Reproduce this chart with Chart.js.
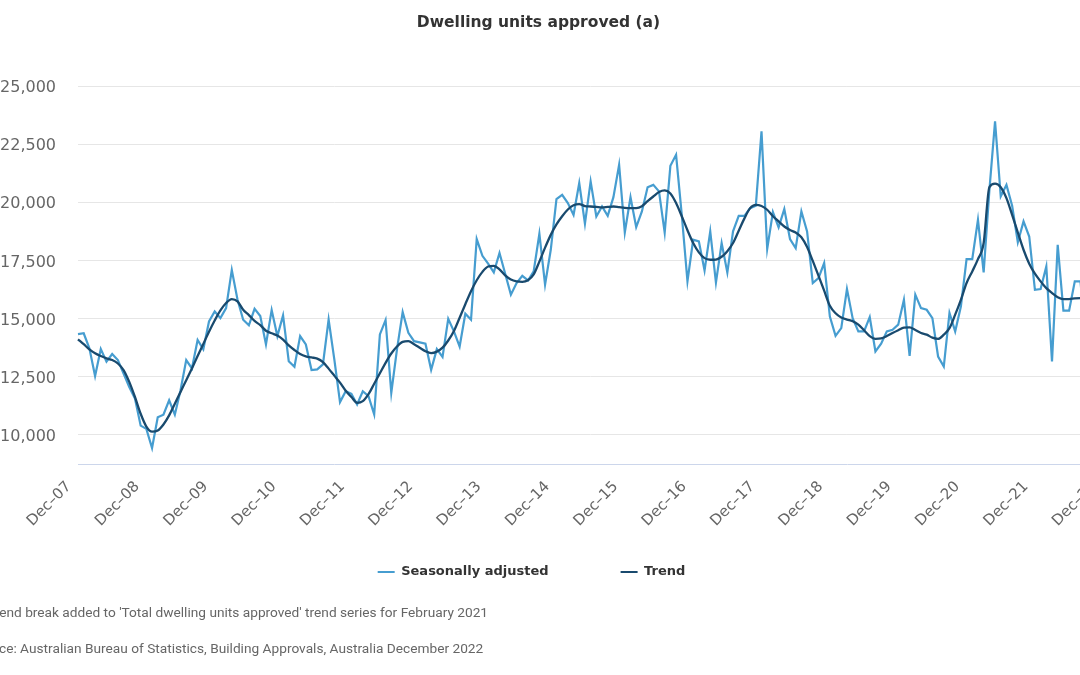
<!DOCTYPE html>
<html>
<head>
<meta charset="utf-8">
<script src="https://cdn.jsdelivr.net/npm/chart.js@4.4.1/dist/chart.umd.min.js"></script>
<style>
  body { margin: 0; width: 1080px; height: 675px; overflow: hidden; background: #fff; position: relative; }
  #wrap { position: absolute; left: -33px; top: 0; width: 1163px; height: 640px; }
  .note { position: absolute; font: 13.7px Roboto, sans-serif; line-height: 16px; color: #666; white-space: nowrap; }
</style>
</head>
<body>
<div id="wrap"><canvas id="myChart" width="1163" height="640"></canvas></div>
<div class="note" style="top:604px; left:-33px">(a) Trend break added to 'Total dwelling units approved' trend series for February 2021</div>
<div class="note" style="top:640px; left:-29px">Source: Australian Bureau of Statistics, Building Approvals, Australia December 2022</div>
<script>
// monthly, Dec-07 .. Dec-22
const monthNames = ["Jan", "Feb", "Mar", "Apr", "May", "Jun", "Jul", "Aug", "Sep", "Oct", "Nov", "Dec"];
const startYear = 2007;
const startMonth = 11; // Dec
const monthCount = 181;

const seasonallyAdjusted = [
  14330, 14370, 13720, 12530, 13690, 13150, 13480, 13220, 12640, 12060, 11560, 10400,
  10260, 9440, 10760, 10870, 11490, 10870, 11920, 13220, 12860, 14080, 13680, 14880,
  15310, 15020, 15450, 17090, 15820, 14950, 14710, 15420, 15110, 13890, 15370, 14250,
  15140, 13170, 12930, 14250, 13890, 12790, 12820, 13030, 14960, 13250, 11410, 11880,
  11770, 11310, 11880, 11670, 10880, 14320, 14940, 11810, 13680, 15280, 14390, 14030,
  13980, 13920, 12800, 13690, 13350, 14990, 14450, 13800, 15210, 14950, 18420, 17700,
  17360, 16990, 17820, 16930, 16030, 16530, 16840, 16640, 17030, 18650, 16460, 17960,
  20140, 20320, 19970, 19460, 20830, 19080, 20900, 19390, 19820, 19420, 20220, 21610,
  18700, 20220, 18930, 19610, 20650, 20750, 20470, 18700, 21570, 22040, 19460, 16600,
  18390, 18320, 17070, 18750, 16550, 18250, 16980, 18750, 19420, 19420, 19750, 19850,
  23050, 18000, 19580, 18920, 19710, 18420, 18030, 19610, 18750, 16530, 16740, 17390,
  15090, 14260, 14590, 16270, 15020, 14450, 14450, 15070, 13590, 13920, 14450, 14520,
  14740, 15810, 13400, 16030, 15450, 15380, 15020, 13370, 12940, 15240, 14450, 15520,
  17560, 17560, 19250, 16990, 20500, 23480, 20250, 20750, 19850, 18280, 19180, 18530,
  16240, 16270, 17240, 13160, 18170, 15340, 15340, 16600, 16600, 13900, 14200, 16300,
  14500
];

const trend = [
  14110, 13900, 13680, 13510, 13390, 13290, 13220, 13070, 12790, 12280, 11630, 10910,
  10360, 10140, 10190, 10450, 10840, 11340, 11850, 12350, 12860, 13390, 13910, 14440,
  14920, 15350, 15670, 15840, 15740, 15380, 15150, 14900, 14720, 14480, 14370, 14270,
  14100, 13850, 13650, 13480, 13380, 13330, 13280, 13130, 12850, 12550, 12250, 11900,
  11630, 11380, 11450, 11750, 12200, 12650, 13100, 13500, 13800, 14000, 14030, 13900,
  13750, 13600, 13520, 13580, 13750, 14060, 14470, 15040, 15620, 16180, 16650, 17010,
  17240, 17270, 17120, 16860, 16680, 16600, 16580, 16650, 16900, 17450, 18050, 18600,
  19050, 19400, 19690, 19870, 19920, 19840, 19820, 19800, 19780, 19800, 19820, 19790,
  19760, 19750, 19750, 19830, 20050, 20250, 20440, 20510, 20380, 19970, 19400, 18800,
  18250, 17850, 17600, 17530, 17540, 17660, 17900, 18250, 18780, 19310, 19750, 19890,
  19840, 19680, 19400, 19180, 18960, 18810, 18700, 18500, 18080, 17480, 16850, 16200,
  15550, 15230, 15050, 14960, 14890, 14740, 14500, 14250, 14130, 14150, 14250, 14380,
  14500, 14610, 14620, 14510, 14380, 14310, 14180, 14130, 14310, 14590, 15170, 15810,
  16530, 17030, 17560, 18250, 20650, 20800, 20650, 20180, 19460, 18700, 17960, 17360,
  16930, 16600, 16310, 16100, 15920, 15840, 15840, 15870, 15880, 15880, 15900, 15920,
  15930
];

const yMin = 8750;
const yMax = 25000;
const yTicks = [10000, 12500, 15000, 17500, 20000, 22500, 25000];

function getMonths() {
  const arr = [];
  for (let k = 0; k < monthCount; k++) {
    const m = (startMonth + k) % 12;
    const y = startYear + Math.floor((startMonth + k) / 12);
    arr.push(`${monthNames[m]}–${String(y % 100).padStart(2, "0")}`);
  }
  return arr;
}

Chart.defaults.font.family = "'DejaVu Sans', sans-serif";
Chart.defaults.color = "#666";

const labels = getMonths();

// legend keeps its wide item gap, but sits a bit higher (and a touch left) of where the layout puts it
const legendLift = {
  id: "legendLift",
  afterLayout(chart) {
    const lg = chart.legend;
    const h = lg.bottom - lg.top;
    lg.top = 493.5;
    lg.bottom = lg.top + h;
    lg.left -= 7;
    lg.right -= 7;
  },
};

const config = {
  type: "line",
  data: {
    labels: labels,
    datasets: [
      {
        label: "Seasonally adjusted",
        data: seasonallyAdjusted,
        borderColor: "#469dd0",
        backgroundColor: "#469dd0",
        borderWidth: 2.2,
        pointRadius: 0,
        tension: 0,
        order: 2,
      },
      {
        label: "Trend",
        data: trend,
        borderColor: "#194a6e",
        backgroundColor: "#194a6e",
        borderWidth: 2.3,
        pointRadius: 0,
        cubicInterpolationMode: "monotone",
        order: 1,
      },
    ],
  },
  options: {
    responsive: false,
    animation: false,
    events: [],
    layout: { padding: { left: 0, right: 20, top: 0, bottom: 1 } },
    plugins: {
      title: {
        display: true,
        text: "Dwelling units approved (a)",
        color: "#333",
        font: { size: 15.5, weight: "bold" },
        padding: { top: 14, bottom: 53.4 },
      },
      legend: {
        position: "bottom",
        labels: {
          color: "#333",
          font: { size: 13, weight: "bold" },
          boxWidth: 17,
          boxHeight: 2,
          padding: 72,
          sort: (a, b) => a.datasetIndex - b.datasetIndex,
          generateLabels: (chart) =>
            Chart.defaults.plugins.legend.labels.generateLabels(chart).map((l) => ({
              ...l,
              lineWidth: 0,
              fillStyle: l.strokeStyle,
            })),
        },
      },
      tooltip: { enabled: false },
    },
    scales: {
      x: {
        grid: { display: true, color: "rgba(0,0,0,0)", drawTicks: false },
        border: { display: true, color: "#ccd6eb", width: 1 },
        ticks: {
          autoSkip: false,
          minRotation: 45,
          maxRotation: 45,
          padding: 14,
          labelOffset: -9,
          color: "#666",
          font: { size: 15 },
          callback: (value, index) => (labels[index].startsWith("Dec") ? labels[index] : ""),
        },
        afterFit: (scale) => {
          scale.height = 80;
        },
      },
      y: {
        min: yMin,
        max: yMax,
        grid: { color: "#e6e6e6", drawTicks: false },
        border: { display: false },
        ticks: {
          padding: 22,
          labelOffset: 2,
          color: "#666",
          font: { size: 16 },
          callback: (value) => value.toLocaleString("en-US"),
        },
        afterBuildTicks: (scale) => {
          scale.ticks = yTicks.map((v) => ({ value: v }));
        },
        afterFit: (scale) => {
          scale.width = 111;
        },
      },
    },
  },
  plugins: [legendLift],
};

const myChart = new Chart(document.getElementById("myChart"), config);
</script>
</body>
</html>
